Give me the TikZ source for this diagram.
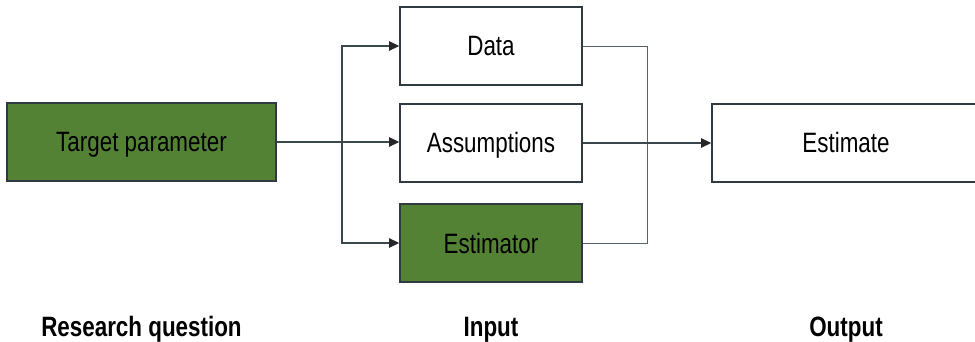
\documentclass[tikz,border=0pt]{standalone}
\usepackage{fontspec}
\setmainfont{Liberation Sans}[FakeStretch=0.8]
\usetikzlibrary{arrows.meta}
\definecolor{boxgreen}{HTML}{548235}
\definecolor{edge}{HTML}{2F3B40}
\definecolor{wire}{HTML}{3A474C}
\definecolor{thinwire}{HTML}{56636A}
\tikzset{
  box/.style={draw=edge, line width=1.2pt, minimum height=78*0.75pt, inner sep=0pt, text height=15pt, text depth=0pt, font=\fontsize{21}{24}\selectfont, text=black},
  greenbox/.style={box, fill=boxgreen},
  whitebox/.style={box, fill=white},
  wireline/.style={draw=wire, line width=0.9pt},
  mergeline/.style={draw=thinwire, line width=0.6pt},
  arr/.style={wireline, -{Triangle[length=7.5pt,width=7pt,color=black!85]}},
  caption/.style={font=\fontsize{21}{24}\selectfont\bfseries, text=black, anchor=base}
}
\begin{document}
\begin{tikzpicture}[x=0.75pt,y=-0.75pt]
\useasboundingbox (0,0) rectangle (975,342);
\node[greenbox, minimum width=269*0.75pt] (target) at (141.5,142) {Target parameter};
\node[whitebox, minimum width=182*0.75pt] (data) at (491,46) {Data};
\node[whitebox, minimum width=182*0.75pt] (assump) at (491,143) {Assumptions};
\node[greenbox, minimum width=182*0.75pt] (estor) at (491,243) {Estimator};
\node[whitebox, minimum width=268*0.75pt] (estim) at (846,143) {Estimate};
\coordinate (split) at (342,142);
\coordinate (mergetop) at (647,46);
\coordinate (mergebot) at (647,243);
\draw[wireline] (target.east |- split) -- (split);
\draw[arr] (split) |- (data.west);
\draw[arr] (split) |- (estor.west);
\draw[arr] (split) -- (assump.west |- split);
\draw[mergeline] (data.east) -- (mergetop) -- (mergebot) -- (estor.east);
\draw[arr] (assump.east) -- (estim.west);
\node[caption] (rq) at (141.5,336) {Research question};
\node[caption] (inp) at (491,336) {Input};
\node[caption] (out) at (846,336) {Output};
\end{tikzpicture}
\end{document}
